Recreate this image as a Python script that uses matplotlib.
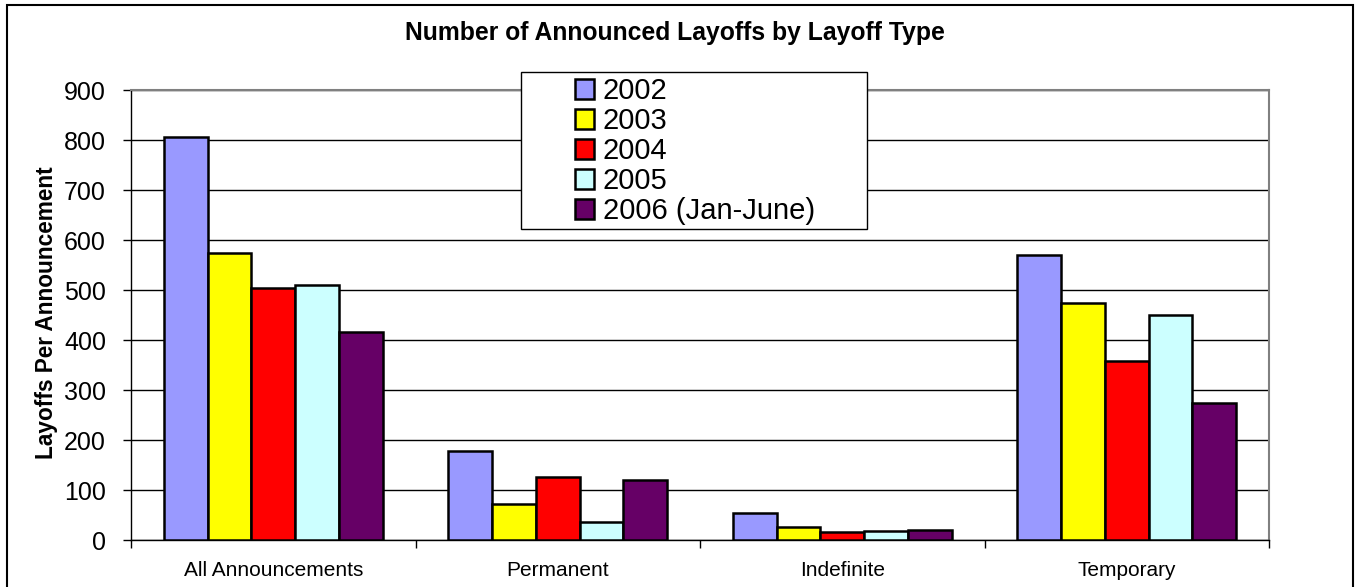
import numpy as np
import matplotlib.pyplot as plt
from matplotlib.patches import Rectangle

plt.rcParams['font.family'] = ['Liberation Sans', 'DejaVu Sans']

categories = ["All Announcements", "Permanent", "Indefinite", "Temporary"]
years = ["2002", "2003", "2004", "2005", "2006 (Jan-June)"]
v2002 = [806, 179, 55, 571]
v2003 = [575, 73, 27, 475]
v2004 = [505, 126, 17, 359]
v2005 = [510, 36, 19, 451]
v2006 = [417, 120, 21, 275]
colors = ["#9999FF", "#FFFF00", "#FF0000", "#CCFFFF", "#660066"]

W, H = 1361, 587
fig = plt.figure(figsize=(W / 100, H / 100), dpi=100)
ax = fig.add_axes([131 / W, 1 - 540 / H, 1138 / W, 450 / H])

x = np.arange(len(categories))
w = 1 / 6.5
series = [v2002, v2003, v2004, v2005, v2006]
handles = []
for j, vals in enumerate(series):
    b = ax.bar(x + (j - 2) * w, vals, w, color=colors[j], edgecolor="black",
               linewidth=1.8, label=years[j], zorder=3)
    handles.append(b)

ax.set_xlim(-0.5, 3.5)
ax.set_ylim(0, 900)
ax.set_yticks(range(0, 901, 100))
ax.yaxis.grid(True, color="black", linewidth=1, zorder=0)
ax.set_axisbelow(True)

ax.set_xticks(x)
ax.set_xticklabels(categories, fontsize=15)
ax.set_xticks(np.arange(-0.5, 4, 1), minor=True)
ax.tick_params(axis="x", which="major", length=0, pad=15)
ax.tick_params(axis="x", which="minor", length=6, width=1, direction="out")
ax.tick_params(axis="y", length=6, width=1, pad=12, labelsize=18)

for s in ["left", "bottom"]:
    ax.spines[s].set_color("black")
    ax.spines[s].set_linewidth(1)
for s in ["top", "right"]:
    ax.spines[s].set_color("#808080")
    ax.spines[s].set_linewidth(1.5)

fig.text(675 / W, 1 - 33 / H, "Number of Announced Layoffs by Layoff Type",
         ha="center", va="center", fontsize=17.8, fontweight="bold")
fig.text(47 / W, 1 - 313 / H, "Layoffs Per Announcement", rotation=90,
         ha="center", va="center", fontsize=16.3, fontweight="bold")

# legend box drawn separately so the padding can match
box = Rectangle((521 / W, 1 - 229 / H), 346 / W, 157 / H, transform=fig.transFigure,
                facecolor="white", edgecolor="black", linewidth=1, zorder=5)
fig.patches.append(box)
leg = fig.legend(handles=handles, loc="upper left", bbox_to_anchor=(575 / W, 1 - 77 / H),
                 frameon=False, fontsize=21, handlelength=0.66, handleheight=0.66,
                 handletextpad=0.3, labelspacing=0.07, borderpad=0, borderaxespad=0)
leg.set_zorder(6)

# outer chart border
fig.patches.append(Rectangle((7 / W, -0.01), 1346 / W, 1 - 5 / H + 0.01,
                             transform=fig.transFigure, fill=False,
                             edgecolor="black", linewidth=1.5, zorder=0))

fig.savefig("out.png", dpi=100)
plt.close()
